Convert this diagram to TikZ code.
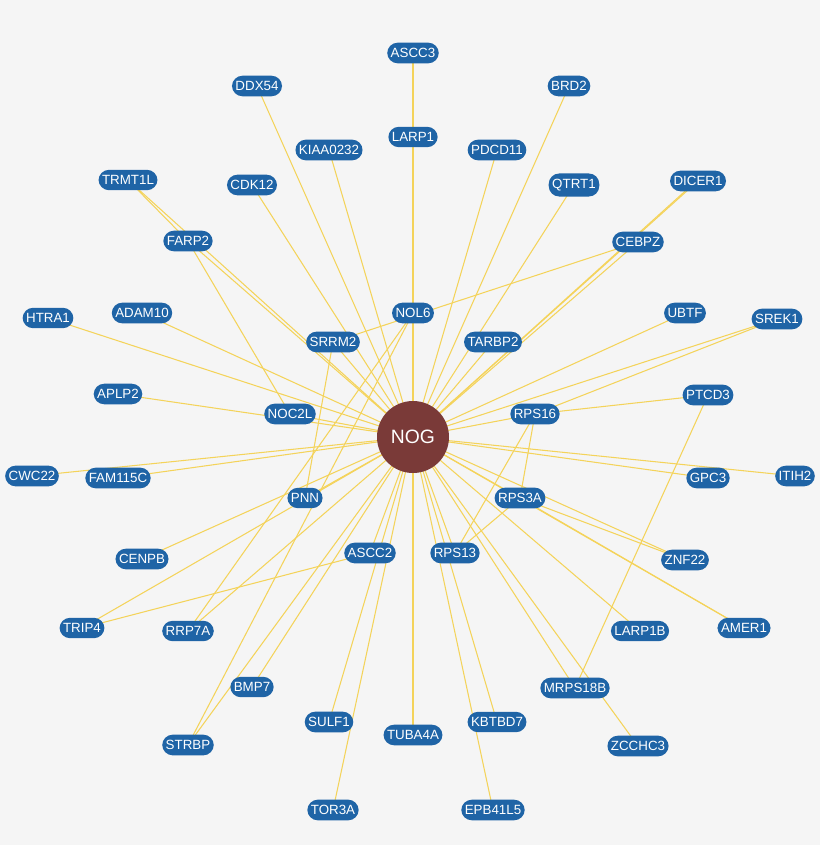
\documentclass[tikz,border=0pt]{standalone}
\usepackage{fontspec}
\setmainfont{Liberation Sans}
\definecolor{bg}{HTML}{F5F5F5}
\definecolor{nb}{HTML}{1F64A6}
\definecolor{hub}{HTML}{7A3A38}
\definecolor{ed}{HTML}{F4D35A}
\tikzset{gene/.style={fill=nb,text=white,rounded corners=6pt,inner xsep=2pt,inner ysep=3.2pt,font=\fontsize{7.6}{8}\selectfont},
edge/.style={ed,line width=0.6pt}}
\begin{document}
\begin{tikzpicture}[x=0.02cm,y=-0.02cm]
\fill[bg] (0,0) rectangle (820,845);
\useasboundingbox (0,0) rectangle (820,845);
\coordinate (NOGc) at (413,437);
\foreach \n/\x/\y in {ASCC3/413/53,DDX54/257/86,BRD2/569/86,LARP1/413/137,KIAA0232/329/150,PDCD11/497/150,TRMT1L/128/180,CDK12/252/185,QTRT1/574/185,DICER1/698/181,FARP2/188/241,CEBPZ/638/242,HTRA1/48/318,ADAM10/142/313,NOL6/413/313,UBTF/685/313,SREK1/777/319,SRRM2/333/342,TARBP2/493/342,APLP2/118/394,NOC2L/290/414,RPS16/535/414,PTCD3/708/395,CWC22/32/476,FAM115C/118/478,GPC3/708/478,ITIH2/795/476,PNN/305/498,RPS3A/520/498,CENPB/142/559,ASCC2/370/553,RPS13/455/553,ZNF22/685/560,TRIP4/82/628,RRP7A/188/631,LARP1B/640/631,AMER1/744/628,BMP7/252/687,MRPS18B/575/688,SULF1/329/722,TUBA4A/413/735,KBTBD7/497/722,STRBP/188/745,ZCCHC3/638/746,TOR3A/333/810,EPB41L5/493/810}
  \coordinate (\n) at (\x,\y);
\coordinate (DICb) at (693,184);
\foreach \n in {ASCC3,DDX54,BRD2,LARP1,KIAA0232,PDCD11,TRMT1L,CDK12,QTRT1,DICER1,DICb,FARP2,CEBPZ,HTRA1,ADAM10,NOL6,UBTF,SREK1,SRRM2,TARBP2,APLP2,NOC2L,RPS16,CWC22,FAM115C,GPC3,ITIH2,PNN,RPS3A,CENPB,ASCC2,RPS13,ZNF22,TRIP4,RRP7A,LARP1B,AMER1,BMP7,MRPS18B,SULF1,TUBA4A,KBTBD7,STRBP,ZCCHC3,TOR3A,EPB41L5}
  \draw[edge] (NOGc) -- (\n);
\foreach \a/\b in {ASCC3/LARP1,TRMT1L/FARP2,CEBPZ/SRRM2,SREK1/RPS16,PTCD3/RPS16,PTCD3/MRPS18B,STRBP/NOL6,RPS16/RPS13,RPS16/RPS3A,RPS3A/RPS13,RPS3A/ZNF22,RPS3A/AMER1,TRIP4/ASCC2,SRRM2/PNN,RRP7A/NOL6,FARP2/NOC2L}
  \draw[edge] (\a) -- (\b);
\foreach \n in {ASCC3,DDX54,BRD2,LARP1,KIAA0232,PDCD11,TRMT1L,CDK12,QTRT1,DICER1,FARP2,CEBPZ,HTRA1,ADAM10,NOL6,UBTF,SREK1,SRRM2,TARBP2,APLP2,NOC2L,RPS16,PTCD3,CWC22,FAM115C,GPC3,ITIH2,PNN,RPS3A,CENPB,ASCC2,RPS13,ZNF22,TRIP4,RRP7A,LARP1B,AMER1,BMP7,MRPS18B,SULF1,TUBA4A,KBTBD7,STRBP,ZCCHC3,TOR3A,EPB41L5}
  \node[gene] (n\n) at (\n) {\n};
\node[circle,fill=hub,text=white,minimum size=72*0.02cm,inner sep=0pt,font=\fontsize{11}{12}\selectfont] (NOG) at (NOGc) {NOG};
\end{tikzpicture}
\end{document}
